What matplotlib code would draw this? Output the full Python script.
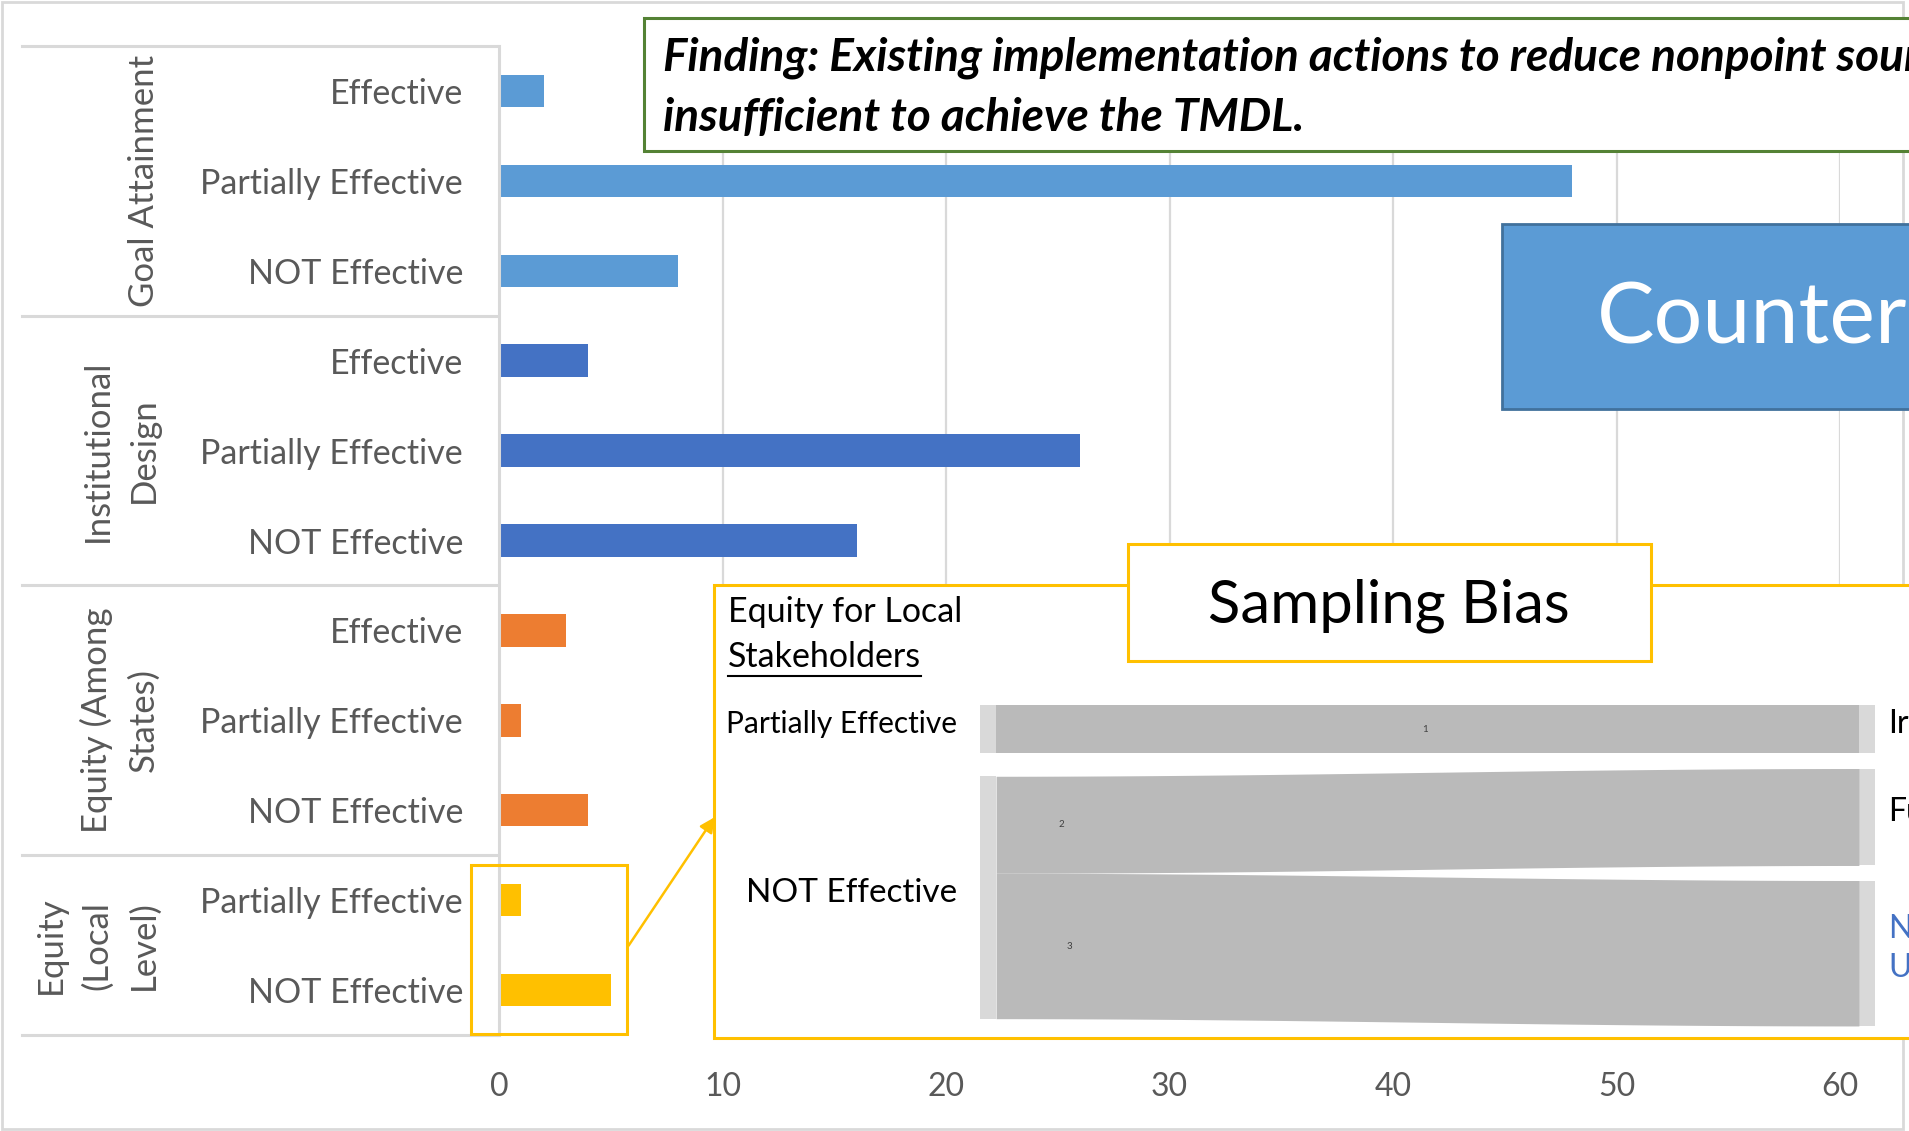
import numpy as np
import matplotlib.pyplot as plt
from matplotlib.patches import Rectangle, FancyArrowPatch
from matplotlib.lines import Line2D
from matplotlib.transforms import blended_transform_factory

# ---- data ----
groups = ['Goal Attainment', 'Institutional\nDesign', 'Equity (Among\nStates)', 'Equity\n(Local\nLevel)']
group_labels = [
    ['Effective', 'Partially Effective', 'NOT Effective'],
    ['Effective', 'Partially Effective', 'NOT Effective'],
    ['Effective', 'Partially Effective', 'NOT Effective'],
    ['Partially Effective', 'NOT Effective'],
]
goal_vals = [2, 48, 8]
inst_vals = [4, 26, 16]
states_vals = [3, 1, 4]
local_vals = [1, 5]
group_colors = ['#5B9BD5', '#4472C4', '#ED7D31', '#FFC000']
x_ticks = [0, 10, 20, 30, 40, 50, 60]

# zoomed sankey (equity for local stakeholders)
snk_sources = ['Partially Effective', 'NOT Effective', 'NOT Effective']
snk_targets = ['Ir', 'Fu', 'N\nU']
snk_values = [1, 2, 3]
snk_target_colors = ['black', 'black', '#4472C4']

W, H = 1909, 1131
plt.rcParams['font.family'] = ['Lato', 'DejaVu Sans']
GRAY = '#595959'
LINE = '#D9D9D9'


def fx(x):
    return x / W


def fy(y):
    return 1 - y / H


def box(x0, y0, x1, y1, **kw):
    r = Rectangle((fx(x0), fy(y1)), fx(x1) - fx(x0), fy(y0) - fy(y1),
                  transform=fig.transFigure, **kw)
    fig.add_artist(r)
    return r


fig = plt.figure(figsize=(W / 100, H / 100), dpi=100)
box(2, 2, 1903, 1129, fill=False, ec=LINE, lw=2, zorder=0)

# ---- main bar chart ----
ax = fig.add_axes([fx(499), fy(1035), fx(1840) - fx(499), fy(46) - fy(1035)])
labels, vals, cols, bounds = [], [], [], [-0.5]
for labs, v, c in zip(group_labels, [goal_vals, inst_vals, states_vals, local_vals], group_colors):
    labels += labs
    vals += v
    cols += [c] * len(v)
    bounds.append(bounds[-1] + len(v))
ypos = np.arange(len(vals))
ax.barh(ypos, vals, height=0.36, color=cols, zorder=2)
ax.set_ylim(len(vals) - 0.5, -0.5)
ax.set_xlim(0, 60)
ax.set_xticks(x_ticks)
ax.set_yticks(ypos, labels)
ax.grid(axis='x', color=LINE, lw=1.6)
ax.set_axisbelow(True)
for s in ['top', 'right', 'bottom']:
    ax.spines[s].set_visible(False)
ax.spines['left'].set_color(LINE)
ax.spines['left'].set_linewidth(2.2)
ax.tick_params(axis='y', length=0, pad=26, labelsize=24.5, labelcolor=GRAY)
ax.tick_params(axis='x', length=0, pad=27, labelsize=23, labelcolor=GRAY)

# group separators and group names
trans = blended_transform_factory(fig.transFigure, ax.transData)
for b in bounds:
    fig.add_artist(Line2D([fx(22), fx(497)], [b, b], transform=trans, color=LINE, lw=2.2))
for i, g in enumerate(groups):
    mid = (bounds[i] + bounds[i + 1]) / 2
    fig.text(fx(160), mid, g, transform=trans, rotation=90, ha='right', va='center',
             multialignment='center', fontsize=25, color=GRAY, linespacing=1.55)

# ---- overlays ----
box(644, 18, 1930, 151, fc='white', ec='#548235', lw=2.2, zorder=5)
fig.text(fx(663), fy(58), 'Finding: Existing implementation actions to reduce nonpoint source pollution are',
         va='center', fontsize=33, weight='bold', style='italic', zorder=6)
fig.text(fx(663), fy(118), 'insufficient to achieve the TMDL.',
         va='center', fontsize=33, weight='bold', style='italic', zorder=6)

box(1502, 224, 1930, 409, fc='#5B9BD5', ec='#41719C', lw=2, zorder=5)
fig.text(fx(1597), fy(319), 'Counter', va='center', fontsize=62, color='white', zorder=6)

box(471, 865, 627, 1034, fill=False, ec='#FFC000', lw=2.2, zorder=5)
fig.add_artist(FancyArrowPatch((fx(627), fy(948)), (fx(716), fy(815)), transform=fig.transFigure,
                               arrowstyle='-|>', mutation_scale=22, color='#FFC000', lw=1.8, zorder=5))
box(714, 585, 1930, 1038, fc='white', ec='#FFC000', lw=2.2, zorder=5)
box(1128, 544, 1651, 661, fc='white', ec='#FFC000', lw=2.2, zorder=6)
fig.text(fx(1389), fy(606), 'Sampling Bias', ha='center', va='center', fontsize=43, zorder=7)

fig.text(fx(728), fy(612), 'Equity for Local', va='center', fontsize=24.5, zorder=7)
stk = fig.text(fx(728), fy(657), 'Stakeholders', va='center', fontsize=24.5, zorder=7)
bb = stk.get_window_extent(renderer=fig.canvas.get_renderer())
fig.add_artist(Line2D([fx(728), bb.x1 / W], [fy(676), fy(676)], transform=fig.transFigure,
                      color='black', lw=1.5, zorder=7))

# ---- sankey ----
sx = fig.add_axes([fx(980), fy(1026), fx(1875) - fx(980), fy(705) - fy(1026)], zorder=8)
sx.set_xlim(0, 1)
sx.axis('off')
nw = 0.018
left_gap, right_gap = 0.47, 0.31

left_nodes = list(dict.fromkeys(snk_sources))
left_pos, y = {}, 0
for n in left_nodes:
    tot = sum(v for s, v in zip(snk_sources, snk_values) if s == n)
    left_pos[n] = [y, y + tot]
    y += tot + left_gap
right_pos, y = {}, 0
for n, v in zip(snk_targets, snk_values):
    right_pos[n] = [y, y + v]
    y += v + right_gap
sx.set_ylim(max(y - right_gap, 0) + 0.001, 0)

left_sizes = {'Partially Effective': 21.5, 'NOT Effective': 24}
for n, (a, b) in left_pos.items():
    sx.add_patch(Rectangle((0, a), nw, b - a, fc=LINE, ec='none'))
    sx.text(-0.026, (a + b) / 2 - 0.1, n, ha='right', va='center', fontsize=left_sizes[n])
for (n, (a, b)), c in zip(right_pos.items(), snk_target_colors):
    sx.add_patch(Rectangle((1 - nw, a), nw, b - a, fc=LINE, ec='none'))
    sx.text(1.0145, (a + b) / 2 - 0.1, n, ha='left', va='center', fontsize=23, color=c,
            linespacing=1.35, clip_on=False)

t = np.linspace(0, 1, 200)
smooth = (1 - np.cos(np.pi * t)) / 2
xs = nw + t * (1 - 2 * nw)
offset = {n: a for n, (a, b) in left_pos.items()}
label_t = [0.5, 0.08, 0.09]
for s, tg, v, lt in zip(snk_sources, snk_targets, snk_values, label_t):
    y0 = offset[s]
    offset[s] += v
    y1 = right_pos[tg][0]
    top = y0 + (y1 - y0) * smooth
    sx.fill_between(xs, top, top + v, color='#BABABA', lw=0)
    k = int(lt * 199)
    sx.text(xs[k], top[k] + v / 2, str(v), ha='center', va='center', fontsize=7, color='#404040')

fig.savefig('out.png', dpi=100)
